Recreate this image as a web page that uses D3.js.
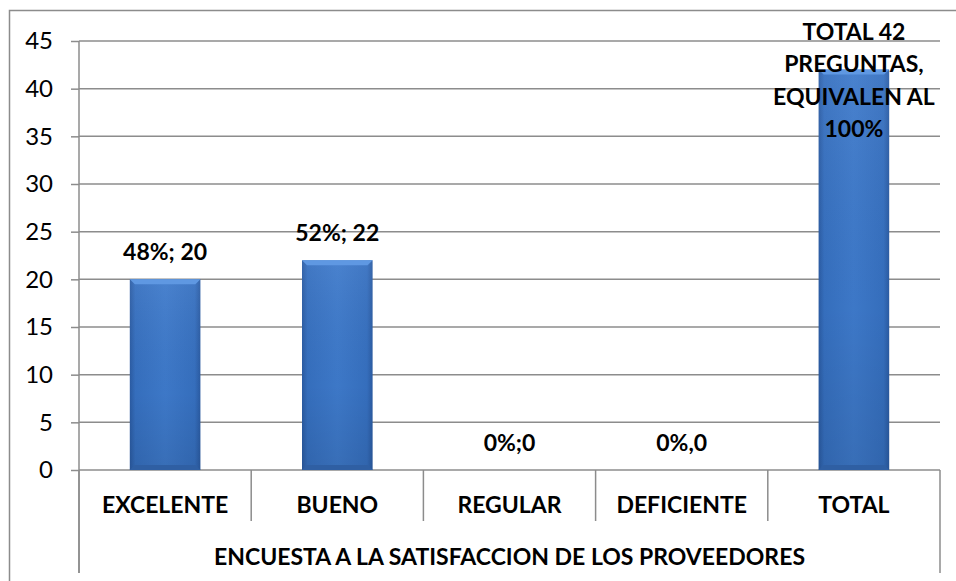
<!DOCTYPE html>
<html>
<head>
<meta charset="utf-8">
<script src="https://cdn.jsdelivr.net/npm/d3@7/dist/d3.min.js"></script>
<style>
  html, body { margin: 0; padding: 0; background: #fff; }
  svg { display: block; }
  text { font-family: Lato, "Noto Sans", sans-serif; fill: #000; }
</style>
</head>
<body>
<svg id="chart" width="956" height="581"></svg>
<script>
// Survey results: supplier satisfaction
const categories = ["EXCELENTE", "BUENO", "REGULAR", "DEFICIENTE", "TOTAL"];
const values = [20, 22, 0, 0, 42];
const valueLabels = [["48%; 20"], ["52%; 22"], ["0%;0"], ["0%,0"],
  ["TOTAL 42", "PREGUNTAS,", "EQUIVALEN AL", "100%"]];
const yTicks = [0, 5, 10, 15, 20, 25, 30, 35, 40, 45];
const groupLabel = "ENCUESTA A LA SATISFACCION DE LOS PROVEEDORES";

const W = 956, H = 581;
const plot = { left: 79, right: 940, top: 41, bottom: 470 };
const svg = d3.select("#chart");
const gridColor = "#8c8c8c";
const labelSize = 23;

// chart frame
svg.append("rect")
  .attr("x", 9.5).attr("y", 10.5)
  .attr("width", W + 10).attr("height", H + 10)
  .attr("fill", "none").attr("stroke", "#8c8c8c").attr("stroke-width", 1.5);

const x = d3.scaleBand().domain(categories)
  .range([plot.left, plot.right]).paddingInner(0.59).paddingOuter(0.295);
const xCat = d3.scaleBand().domain(categories).range([plot.left, plot.right]);
const y = d3.scaleLinear().domain([0, 45]).range([plot.bottom, plot.top]);

// horizontal gridlines + y axis
const yAxis = d3.axisLeft(y).tickValues(yTicks).tickSize(8).tickPadding(18)
  .tickFormat(d3.format("d"));
const gy = svg.append("g").attr("transform", `translate(${plot.left},0)`).call(yAxis);
gy.select(".domain").remove();
gy.selectAll(".tick line").attr("stroke", gridColor).attr("stroke-width", 1.5);
gy.selectAll(".tick text").attr("font-size", 24).attr("font-family", "Lato").attr("fill", "#000");

svg.append("g").selectAll("line").data(yTicks).join("line")
  .attr("x1", plot.left).attr("x2", plot.right)
  .attr("y1", d => y(d)).attr("y2", d => y(d))
  .attr("stroke", gridColor).attr("stroke-width", 1.5);

// vertical axis line, running down past the category rows
svg.append("line")
  .attr("x1", plot.left).attr("x2", plot.left)
  .attr("y1", plot.top).attr("y2", 573)
  .attr("stroke", gridColor).attr("stroke-width", 1.5);

// category separators
const seps = categories.map(c => xCat(c)).concat([plot.right]);
svg.append("g").selectAll("line").data(seps).join("line")
  .attr("x1", d => d).attr("x2", d => d)
  .attr("y1", plot.bottom)
  .attr("y2", (d, i) => (i === 0 || i === seps.length - 1) ? 573 : 521)
  .attr("stroke", gridColor).attr("stroke-width", 1.5);

// bar gradients
const defs = svg.append("defs");
const hg = defs.append("linearGradient").attr("id", "barH").attr("x1", 0).attr("x2", 1).attr("y1", 0).attr("y2", 0);
hg.append("stop").attr("offset", "0%").attr("stop-color", "#2b5ca4");
hg.append("stop").attr("offset", "8%").attr("stop-color", "#3670c0");
hg.append("stop").attr("offset", "50%").attr("stop-color", "#3e7acb");
hg.append("stop").attr("offset", "92%").attr("stop-color", "#3670c0");
hg.append("stop").attr("offset", "100%").attr("stop-color", "#2b5ca4");
const vg = defs.append("linearGradient").attr("id", "barV").attr("x1", 0).attr("x2", 0).attr("y1", 0).attr("y2", 1);
vg.append("stop").attr("offset", "0%").attr("stop-color", "#fff").attr("stop-opacity", 0.06);
vg.append("stop").attr("offset", "60%").attr("stop-color", "#000").attr("stop-opacity", 0.02);
vg.append("stop").attr("offset", "100%").attr("stop-color", "#000").attr("stop-opacity", 0.1);

const bev = 5;
const bars = svg.append("g").selectAll("g").data(categories.map((c, i) => ({ c, v: values[i] })))
  .join("g").filter(d => d.v > 0);
bars.append("rect")
  .attr("x", d => x(d.c)).attr("y", d => y(d.v))
  .attr("width", x.bandwidth()).attr("height", d => y(0) - y(d.v))
  .attr("fill", "url(#barH)");
bars.append("rect")
  .attr("x", d => x(d.c)).attr("y", d => y(d.v))
  .attr("width", x.bandwidth()).attr("height", d => y(0) - y(d.v))
  .attr("fill", "url(#barV)");
// top bevel
bars.append("path")
  .attr("d", d => {
    const x0 = x(d.c), x1 = x0 + x.bandwidth(), t = y(d.v);
    return `M${x0},${t}L${x1},${t}L${x1 - bev},${t + bev}L${x0 + bev},${t + bev}Z`;
  })
  .attr("fill", "#5f98e2");
// bottom bevel
bars.append("path")
  .attr("d", d => {
    const x0 = x(d.c), x1 = x0 + x.bandwidth(), b = y(0);
    return `M${x0},${b}L${x1},${b}L${x1 - bev},${b - bev}L${x0 + bev},${b - bev}Z`;
  })
  .attr("fill", "#2f5fa3");

// value labels
categories.forEach((c, i) => {
  const lines = valueLabels[i];
  const cx = xCat(c) + xCat.bandwidth() / 2;
  const lh = 32.3;
  let firstBase = y(values[i]) - 19 - (lines.length - 1) * lh;
  firstBase = Math.max(firstBase, y(45) - 1);
  const t = svg.append("text").attr("text-anchor", "middle")
    .attr("font-size", labelSize).attr("font-weight", 700);
  lines.forEach((ln, k) => {
    t.append("tspan").attr("x", cx).attr("y", firstBase + k * lh).text(ln);
  });
});

// category labels
svg.append("g").selectAll("text").data(categories).join("text")
  .attr("x", d => xCat(d) + xCat.bandwidth() / 2).attr("y", 513)
  .attr("text-anchor", "middle").attr("font-size", labelSize).attr("font-weight", 700)
  .text(d => d);

// group label
svg.append("text")
  .attr("x", (plot.left + plot.right) / 2).attr("y", 565)
  .attr("text-anchor", "middle").attr("font-size", labelSize).attr("font-weight", 700)
  .text(groupLabel);
</script>
</body>
</html>
